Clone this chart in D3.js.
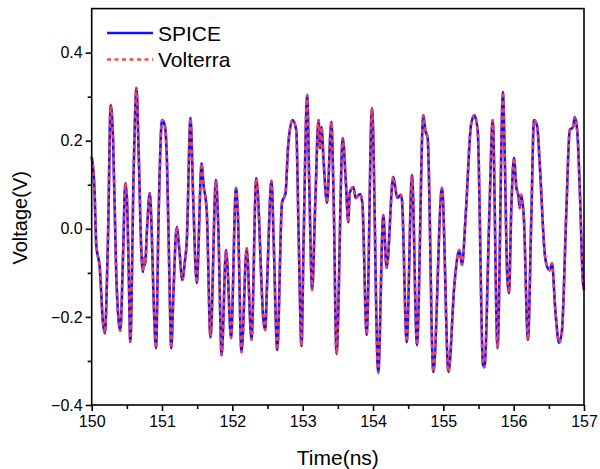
<!DOCTYPE html>
<html>
<head>
<meta charset="utf-8">
<script src="https://cdn.jsdelivr.net/npm/d3@7"></script>
<style>
  body { margin: 0; background: #fff; }
  text { font-family: "Liberation Sans", Arial, sans-serif; }
</style>
</head>
<body>
<svg width="600" height="469"></svg>
<script>
// time points (ns)
var time = [
  150.000, 150.040, 150.065, 150.114, 150.161, 150.186, 150.232, 150.270, 150.303, 150.350,
  150.407, 150.445, 150.478, 150.502, 150.526, 150.549, 150.597, 150.637, 150.668, 150.705,
  150.729, 150.744, 150.758, 150.786, 150.825, 150.848, 150.882, 150.914, 150.953, 151.000,
  151.038, 151.071, 151.099, 151.132, 151.160, 151.209, 151.246, 151.288, 151.327, 151.351,
  151.405, 151.445, 151.493, 151.564, 151.587, 151.635, 151.689, 151.767, 151.800, 151.848,
  151.910, 151.928, 151.981, 152.052, 152.076, 152.130, 152.204, 152.272, 152.340, 152.446,
  152.468, 152.492, 152.557, 152.588, 152.638, 152.706, 152.756, 152.794, 152.855, 152.909,
  152.943, 152.983, 153.014, 153.064, 153.094, 153.135, 153.179, 153.225, 153.250, 153.267,
  153.299, 153.346, 153.407, 153.441, 153.481, 153.570, 153.612, 153.649, 153.668, 153.720,
  153.754, 153.815, 153.848, 153.910, 153.985, 154.074, 154.146, 154.194, 154.288, 154.345,
  154.394, 154.412, 154.479, 154.554, 154.625, 154.715, 154.743, 154.777, 154.857, 154.981,
  155.073, 155.159, 155.227, 155.265, 155.322, 155.393, 155.440, 155.488, 155.564, 155.585,
  155.653, 155.702, 155.770, 155.848, 155.872, 155.909, 155.933, 155.966, 156.004, 156.037,
  156.071, 156.085, 156.108, 156.146, 156.203, 156.250, 156.289, 156.336, 156.370, 156.441,
  156.478, 156.512, 156.545, 156.592, 156.645, 156.687, 156.748, 156.797, 156.844, 156.868,
  156.905, 156.939, 156.986, 157.000
];

// SPICE output voltage (V)
var spice = [
   0.163,  0.088, -0.037, -0.087, -0.214, -0.237, -0.019,  0.281,  0.208, -0.109,
  -0.232, -0.064,  0.104,  0.065, -0.094, -0.257,  0.134,  0.320,  0.172, -0.048,
  -0.098, -0.066, -0.082, -0.003,  0.081,  0.020, -0.168, -0.271,  0.043,  0.247,
   0.236,  0.149, -0.064, -0.271, -0.155,  0.004, -0.048, -0.116, -0.071, -0.032,
   0.252,  0.059, -0.123,  0.149,  0.104,  0.043, -0.246,  0.111,  0.004, -0.287,
  -0.048, -0.078, -0.248,  0.093,  0.043, -0.280, -0.044, -0.252,  0.115, -0.214,
  -0.230, -0.132,  0.109, -0.032, -0.275,  0.059,  0.081,  0.190,  0.247,  0.224,
  -0.019, -0.266, -0.019,  0.304,  0.095, -0.139,  0.059,  0.247,  0.183,  0.231,
   0.149,  0.059,  0.243,  0.059, -0.284,  0.206,  0.111,  0.015,  0.081,  0.095,
   0.070,  0.079,  0.059, -0.241,  0.274, -0.327,  0.031, -0.089,  0.118,  0.070,
   0.077,  0.065, -0.257,  0.122, -0.264,  0.258,  0.224,  0.206, -0.325,  0.093,
  -0.325, -0.123, -0.048, -0.082,  0.043,  0.235,  0.258,  0.224, -0.309, -0.314,
   0.027,  0.247, -0.271,  0.311,  0.172, -0.109, -0.146,  0.043,  0.161,  0.095,
   0.072,  0.047,  0.077,  0.020, -0.252,  0.020,  0.247,  0.231,  0.149, -0.055,
  -0.087, -0.094, -0.078, -0.184, -0.259, -0.230,  0.036,  0.224,  0.231,  0.254,
   0.220,  0.095, -0.123, -0.139
];

// Volterra model output: indistinguishable from SPICE at this scale
var volterra = spice.slice();

var xTicks = [150, 151, 152, 153, 154, 155, 156, 157];
var xMinor = [150.5, 151.5, 152.5, 153.5, 154.5, 155.5, 156.5];
var yTicks = [-0.4, -0.2, 0.0, 0.2, 0.4];
var yMinor = [-0.3, -0.1, 0.1, 0.3];

var svg = d3.select("svg");

var x = d3.scaleLinear().domain([150, 157]).range([91.7, 584]);
var y = d3.scaleLinear().domain([-0.4, 0.5]).range([405, 8.6]);

var line = d3.line()
    .x(function(d) { return x(d[0]); })
    .y(function(d) { return y(d[1]); })
    .curve(d3.curveMonotoneX);

var plot = svg.append("g");

plot.append("path")
    .datum(d3.zip(time, spice))
    .attr("fill", "none")
    .attr("stroke", "#1010ff")
    .attr("stroke-width", 2.6)
    .attr("d", line);

plot.append("path")
    .datum(d3.zip(time, volterra))
    .attr("fill", "none")
    .attr("stroke", "#ff4848")
    .attr("stroke-opacity", 0.9)
    .attr("stroke-width", 2.7)
    .attr("stroke-dasharray", "4,3.5")
    .attr("d", line);

// frame
svg.append("rect")
    .attr("x", x(150)).attr("y", y(0.5))
    .attr("width", x(157) - x(150)).attr("height", y(-0.4) - y(0.5))
    .attr("fill", "none")
    .attr("stroke", "#000")
    .attr("stroke-width", 1.6);

// x axis
var xAxis = svg.append("g")
    .attr("transform", "translate(0," + y(-0.4) + ")")
    .call(d3.axisBottom(x).tickValues(xTicks).tickFormat(d3.format("d")).tickSize(6).tickPadding(5));
xAxis.append("g")
    .call(d3.axisBottom(x).tickValues(xMinor).tickSize(4).tickFormat(""));

// y axis
var yAxis = svg.append("g")
    .attr("transform", "translate(" + x(150) + ",0)")
    .call(d3.axisLeft(y).tickValues(yTicks).tickFormat(d3.format(".1f")).tickSize(6).tickPadding(3));
yAxis.append("g")
    .call(d3.axisLeft(y).tickValues(yMinor).tickSize(4).tickFormat(""));

svg.selectAll(".domain").remove();
svg.selectAll(".tick line").attr("stroke", "#000").attr("stroke-width", 1.6);
svg.selectAll(".tick text")
    .attr("fill", "#000")
    .style("font-size", "16px")
    .style("font-family", "'Liberation Sans', Arial, sans-serif");

// axis titles
svg.append("text")
    .attr("x", (x(150) + x(157)) / 2)
    .attr("y", 465)
    .attr("text-anchor", "middle")
    .style("font-size", "21px")
    .text("Time(ns)");

svg.append("text")
    .attr("transform", "translate(27," + y(0.025) + ") rotate(-90)")
    .attr("text-anchor", "middle")
    .style("font-size", "20px")
    .text("Voltage(V)");

// legend
var legend = svg.append("g");
var names = ["SPICE", "Volterra"];
legend.append("line")
    .attr("x1", 107).attr("x2", 153).attr("y1", 33).attr("y2", 33)
    .attr("stroke", "#1010ff").attr("stroke-width", 2.4);
legend.append("line")
    .attr("x1", 107).attr("x2", 153).attr("y1", 59.5).attr("y2", 59.5)
    .attr("stroke", "#ff4848").attr("stroke-width", 2.4)
    .attr("stroke-dasharray", "4,3.5");
legend.selectAll("text.lab")
    .data(names)
    .enter().append("text")
    .attr("class", "lab")
    .attr("x", 158)
    .attr("y", function(d, i) { return 40.5 + i * 26.5; })
    .style("font-size", "21px")
    .text(function(d) { return d; });
</script>
</body>
</html>
